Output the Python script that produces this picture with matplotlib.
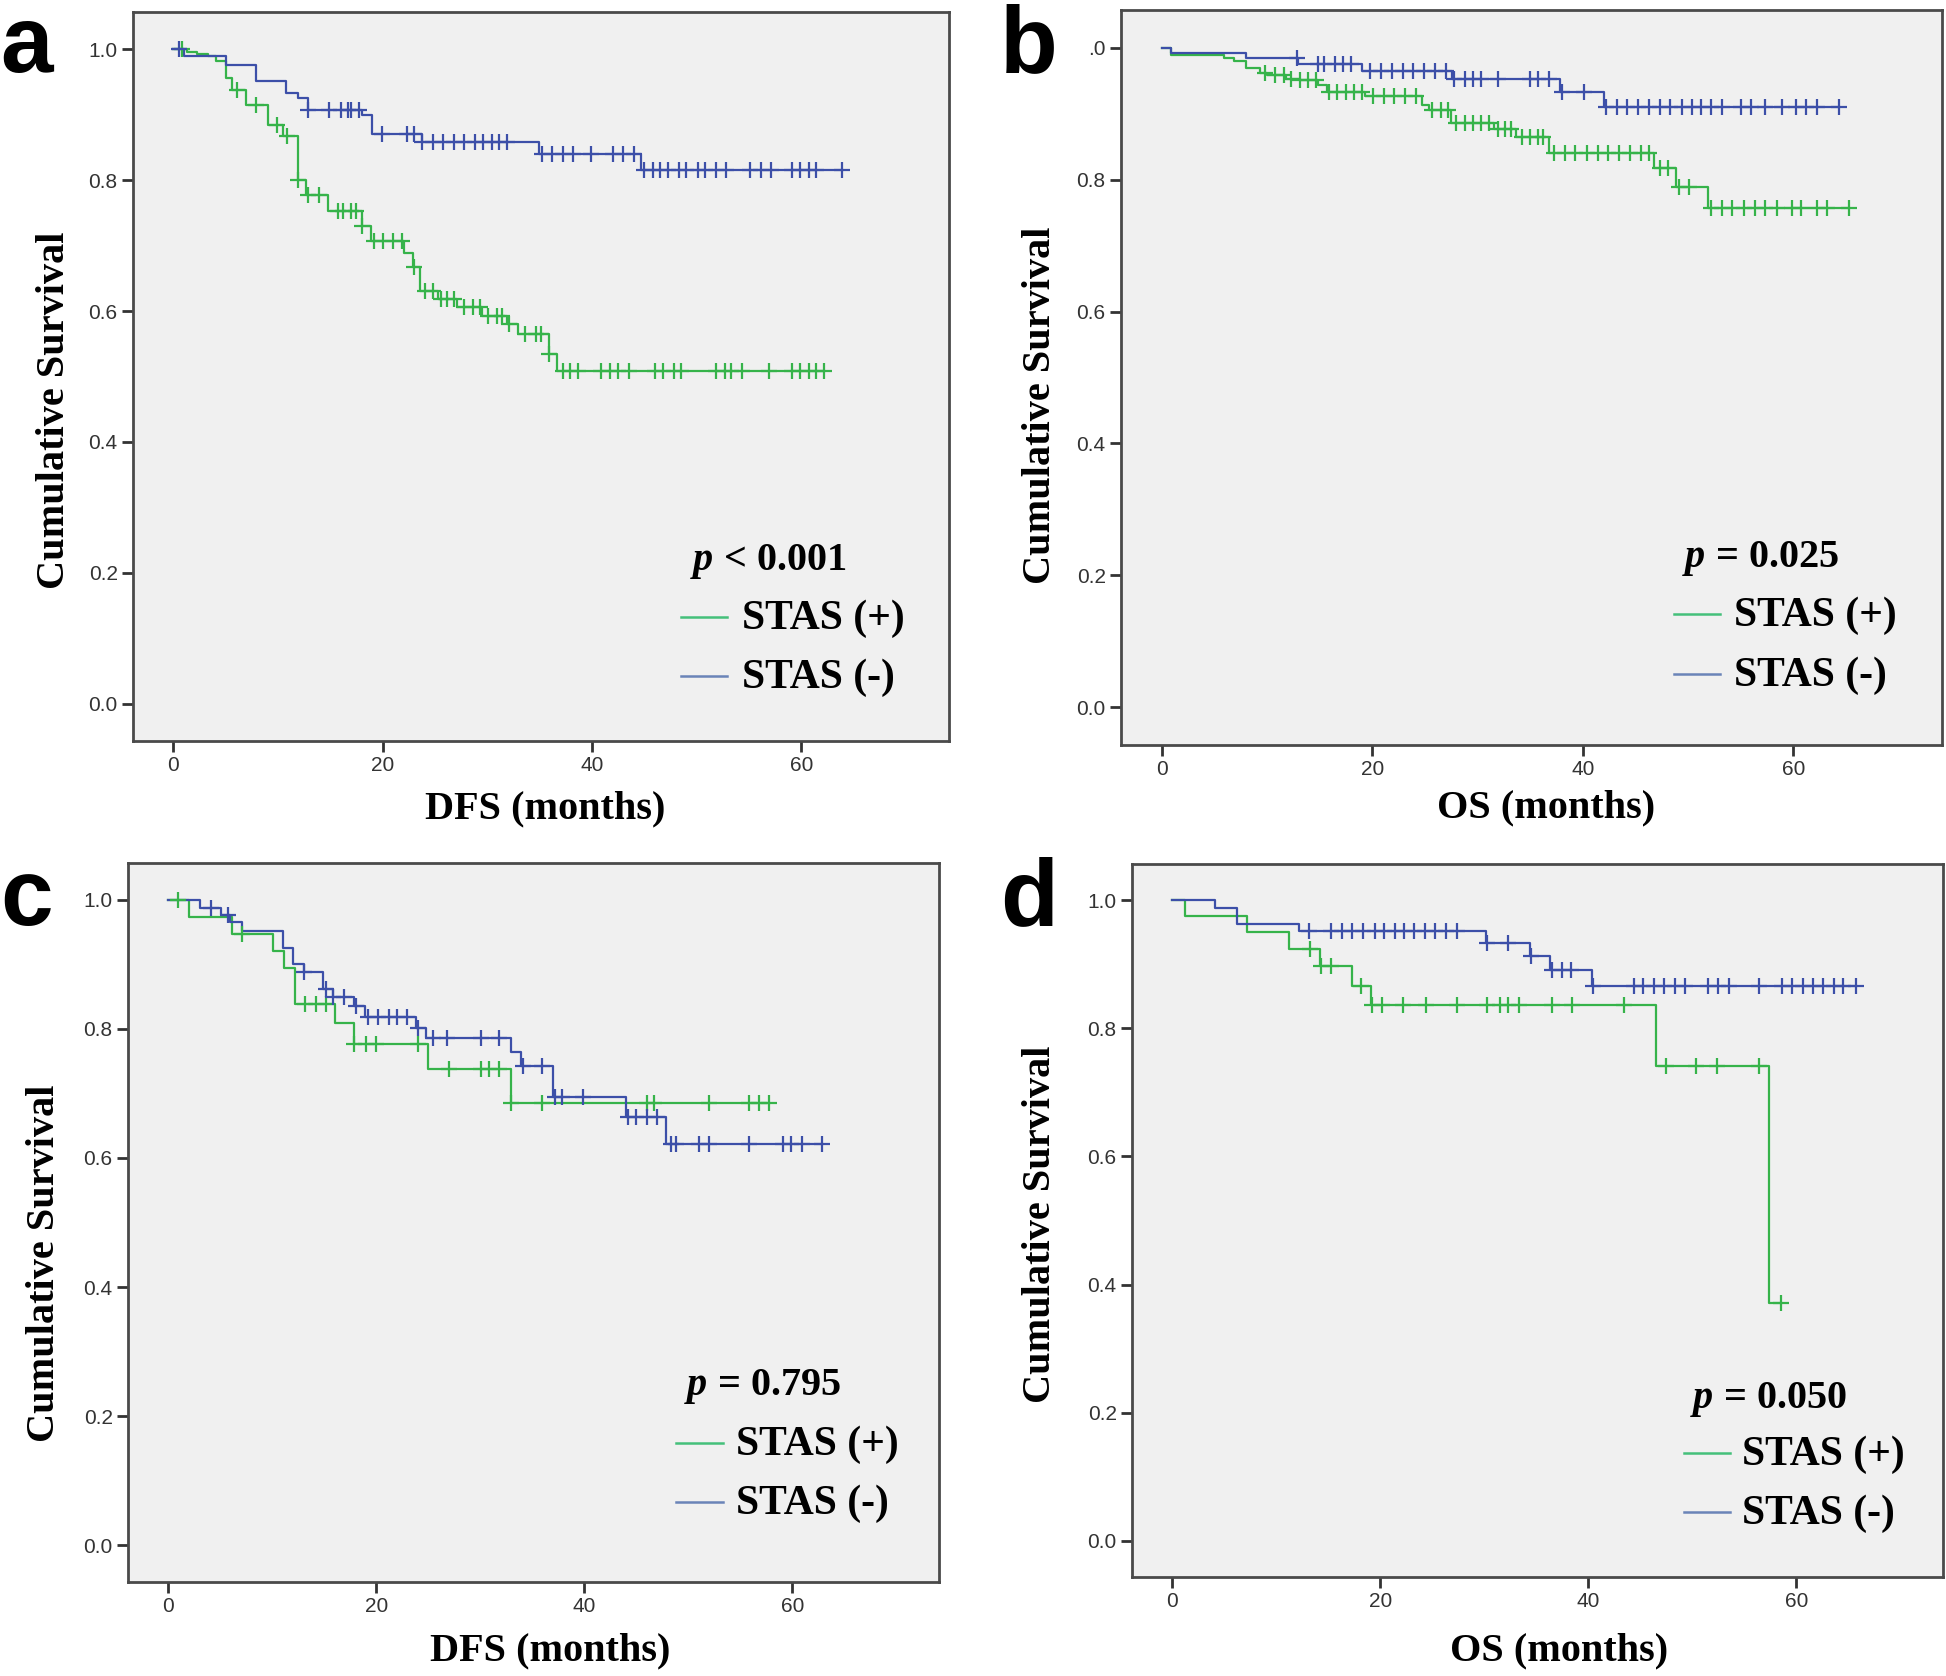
import numpy as np
import matplotlib
matplotlib.use("Agg")
import matplotlib.pyplot as plt
from matplotlib.lines import Line2D

plt.rcParams["mathtext.fontset"] = "custom"
plt.rcParams["mathtext.it"] = "Liberation Serif:italic:bold"
plt.rcParams["mathtext.rm"] = "Liberation Serif:bold"

W, H = 1946, 1676
GREEN = "#36b34a"
BLUE = "#3c4fa8"
LEG_GREEN = "#44c07a"
LEG_BLUE = "#6a84b8"

# ---- data: step times (months), survival after each step, censor times ----
# panel a: DFS
a_pos_t = [0, 1.3, 2.3, 3.3, 4.1, 5.0, 5.6, 6.9, 9.0, 10.5, 11.9, 12.7, 14.8, 18.0, 18.9,
           22.0, 22.9, 23.6, 25.3, 27.1, 29.5, 31.9, 32.9, 35.9, 36.7]
a_pos_s = [1.0, 0.996, 0.993, 0.99, 0.982, 0.956, 0.938, 0.915, 0.885, 0.868, 0.80, 0.778,
           0.753, 0.73, 0.707, 0.689, 0.667, 0.631, 0.618, 0.606, 0.593, 0.58, 0.565, 0.535, 0.509]
a_pos_c = [0.8, 6.1, 7.9, 9.9, 10.9, 11.9, 12.9, 13.9, 15.7, 16.2, 17.0, 17.5, 18.0, 19.2, 20.0,
           21.0, 21.8, 23.0, 24.0, 24.8, 25.6, 26.1, 26.8, 27.8, 28.6, 29.3, 30.1, 30.9, 31.4,
           32.1, 33.6, 34.6, 35.1, 35.9, 37.2, 37.9, 38.7, 40.9, 41.7, 42.5, 43.5, 46.0, 46.8,
           47.8, 48.5, 51.8, 52.7, 53.3, 54.3, 56.9, 59.1, 59.9, 60.7, 61.4, 62.2]
a_neg_t = [0, 1.0, 5.0, 7.9, 10.8, 11.9, 12.9, 18.0, 19.0, 23.8, 34.9, 44.7]
a_neg_s = [1.0, 0.99, 0.976, 0.951, 0.933, 0.925, 0.908, 0.90, 0.870, 0.859, 0.840, 0.815]
a_neg_c = [0.5, 12.9, 14.9, 16.0, 16.7, 17.0, 17.7, 19.9, 22.3, 23.0, 23.8, 24.8, 25.8, 26.8,
           27.8, 28.8, 29.6, 30.4, 31.1, 31.9, 35.2, 36.2, 37.2, 38.2, 39.9, 42.0, 43.0, 44.0,
           45.0, 45.8, 46.5, 47.3, 48.3, 49.0, 50.1, 50.8, 51.8, 52.8, 55.1, 56.1, 57.1, 59.1,
           59.9, 60.7, 61.4, 63.9]

# panel b: OS
b_pos_t = [0, 0.9, 5.9, 6.9, 8.0, 9.3, 10.0, 11.8, 13.1, 14.9, 15.7, 19.3, 24.7, 25.4, 27.5,
           31.6, 33.7, 36.8, 46.8, 48.8, 51.9]
b_pos_s = [1.0, 0.989, 0.984, 0.979, 0.969, 0.961, 0.958, 0.953, 0.951, 0.943, 0.933, 0.926,
           0.913, 0.905, 0.885, 0.877, 0.865, 0.84, 0.817, 0.789, 0.757]
b_pos_c = [9.8, 10.8, 11.6, 12.3, 13.1, 13.9, 14.7, 15.9, 16.7, 17.5, 18.3, 19.0, 20.1, 21.1,
           22.1, 23.1, 24.2, 25.7, 26.5, 27.2, 28.0, 28.8, 29.6, 30.3, 31.1, 31.9, 32.6, 33.2,
           34.2, 35.0, 35.7, 36.2, 37.3, 38.3, 39.3, 40.4, 41.4, 42.4, 43.4, 44.5, 45.5, 46.3,
           47.3, 48.1, 49.1, 50.1, 52.2, 53.2, 54.2, 55.3, 56.3, 57.3, 58.4, 59.9, 60.7, 62.2,
           63.2, 65.3]
b_neg_t = [0, 0.9, 8.0, 13.0, 19.0, 27.6, 37.8, 42.0]
b_neg_s = [1.0, 0.992, 0.984, 0.975, 0.965, 0.952, 0.932, 0.91]
b_neg_c = [12.9, 14.9, 15.4, 16.5, 17.2, 18.0, 19.8, 20.8, 21.9, 22.9, 23.9, 24.9, 26.0, 27.0,
           27.8, 28.8, 29.6, 30.3, 31.9, 35.0, 35.7, 36.8, 38.0, 40.1, 42.2, 43.2, 44.2, 45.2,
           46.3, 47.3, 48.3, 49.4, 50.4, 51.2, 52.2, 53.2, 55.0, 56.0, 57.3, 58.9, 60.2, 61.2,
           62.2, 64.3]

# panel c: DFS
c_pos_t = [0, 2.0, 6.1, 10.1, 11.1, 12.2, 16.0, 17.9, 25.0, 33.0]
c_pos_s = [1.0, 0.974, 0.947, 0.921, 0.894, 0.839, 0.809, 0.777, 0.738, 0.685]
c_pos_c = [1.0, 7.1, 13.2, 14.2, 15.2, 17.9, 19.0, 20.0, 24.0, 27.0, 30.1, 30.8, 31.8, 33.0,
           35.9, 46.0, 46.7, 52.0, 55.8, 56.8, 57.8]
c_neg_t = [0, 3.1, 5.1, 6.0, 7.1, 11.0, 12.0, 13.1, 14.9, 15.9, 17.9, 18.9, 23.8, 24.8, 33.0,
           33.9, 37.0, 44.0, 47.9]
c_neg_s = [1.0, 0.988, 0.977, 0.965, 0.952, 0.925, 0.90, 0.888, 0.862, 0.849, 0.836, 0.819,
           0.802, 0.786, 0.764, 0.742, 0.694, 0.663, 0.622]
c_neg_c = [4.1, 5.8, 13.1, 15.2, 15.9, 16.9, 18.1, 19.2, 20.2, 21.2, 22.0, 23.0, 24.0, 25.5,
           26.8, 30.1, 31.8, 34.1, 35.9, 37.2, 37.9, 39.9, 44.2, 45.0, 46.0, 47.0, 48.3, 48.8,
           51.0, 52.0, 55.8, 59.1, 59.9, 60.9, 62.9]

# panel d: OS
d_pos_t = [0, 1.2, 7.2, 11.2, 14.2, 17.3, 19.1, 46.5, 57.4]
d_pos_s = [1.0, 0.975, 0.95, 0.924, 0.897, 0.867, 0.836, 0.742, 0.371]
d_pos_c = [13.3, 14.3, 15.3, 18.2, 19.2, 20.2, 22.2, 24.4, 27.4, 30.3, 31.5, 32.3, 33.3, 36.5,
           38.4, 43.4, 47.5, 50.4, 52.4, 56.4, 58.5]
d_neg_t = [0, 4.1, 6.2, 12.2, 30.2, 34.4, 36.3, 40.4]
d_neg_s = [1.0, 0.988, 0.964, 0.952, 0.933, 0.913, 0.892, 0.867]
d_neg_c = [13.2, 15.3, 16.3, 17.3, 18.4, 19.5, 20.4, 21.4, 22.3, 23.3, 24.3, 25.3, 26.3, 27.4,
           30.3, 32.3, 34.5, 36.5, 37.5, 38.3, 40.5, 44.4, 45.3, 46.3, 47.3, 48.3, 49.3, 51.5,
           52.5, 53.5, 56.4, 58.6, 59.6, 60.6, 61.6, 62.6, 63.6, 64.5, 65.7]

panel_letters = ["a", "b", "c", "d"]
x_labels = ["DFS (months)", "OS (months)", "DFS (months)", "OS (months)"]
p_texts = [r"$p$ < 0.001", r"$p$ = 0.025", r"$p$ = 0.795", r"$p$ = 0.050"]
legend_labels = ["STAS (+)", "STAS (-)"]
y_ticks = [0.0, 0.2, 0.4, 0.6, 0.8, 1.0]
y_ticklabels = ["0.0", "0.2", "0.4", "0.6", "0.8", "1.0"]
y_ticklabels_b = ["0.0", "0.2", "0.4", "0.6", "0.8", ".0"]
x_ticks = [0, 20, 40, 60]

curves = [
    (a_pos_t, a_pos_s, a_pos_c, a_neg_t, a_neg_s, a_neg_c),
    (b_pos_t, b_pos_s, b_pos_c, b_neg_t, b_neg_s, b_neg_c),
    (c_pos_t, c_pos_s, c_pos_c, c_neg_t, c_neg_s, c_neg_c),
    (d_pos_t, d_pos_s, d_pos_c, d_neg_t, d_neg_s, d_neg_c),
]

# layout in pixels (left, top, right, bottom) of each plot box
boxes = [(133, 12, 949, 741), (1121, 10, 1942, 745), (128, 863, 939, 1582), (1132, 864, 1943, 1577)]
letter_pos = [(0, 72), (1000, 72), (0, 925), (1000, 925)]
ylabel_pos = [(55, 410), (1040, 405), (45, 1263), (1040, 1224)]
xlabel_pos = [(545, 809), (1546, 808), (550, 1651), (1559, 1651)]
# legend: p-text left x, p center y, line x0, x1, text x, row y's
legend_pos = [
    (690, 561, 681, 727, 742, 619, 678),
    (1682, 558, 1674, 1720, 1734, 616, 676),
    (684, 1386, 676, 723, 736, 1445, 1504),
    (1690, 1399, 1684, 1730, 1742, 1455, 1514),
]

fx = lambda px: px / W
fy = lambda py: 1 - py / H

SERIF = "Liberation Serif"
SANS = "Liberation Sans"


def km(ax, t, s, c, color):
    t = np.asarray(t, float); s = np.asarray(s, float); c = np.asarray(c, float)
    end = max(t[-1], c.max())
    ax.step(np.append(t, end), np.append(s, s[-1]), where="post", color=color, lw=1.6, zorder=3)
    cy = s[np.searchsorted(t, c, side="right") - 1]
    ax.plot(c, cy, ls="none", marker="+", ms=11, mew=1.6, color=color, zorder=4)


fig = plt.figure(figsize=(W / 100, H / 100), dpi=100)
for i, (box, cur) in enumerate(zip(boxes, curves)):
    l, t, r, b = box
    ax = fig.add_axes([fx(l), fy(b), (r - l) / W, (b - t) / H])
    ax.set_facecolor("#f0f0f0")
    km(ax, cur[0], cur[1], cur[2], GREEN)
    km(ax, cur[3], cur[4], cur[5], BLUE)
    ax.set_xlim(-3.85, 74.1)
    ax.set_ylim(-0.057, 1.057)
    ax.set_xticks(x_ticks)
    ax.set_yticks(y_ticks)
    ax.set_yticklabels(y_ticklabels_b if i == 1 else y_ticklabels)
    for sp in ax.spines.values():
        sp.set_color("#4a4a4a"); sp.set_linewidth(2.0)
    ax.tick_params(direction="out", length=8, width=2, color="#333333",
                   labelcolor="#333333", labelsize=15, pad=3)
    for lab in ax.get_xticklabels() + ax.get_yticklabels():
        lab.set_family(SANS)

    lx, ly = letter_pos[i]
    fig.text(fx(lx), fy(ly), panel_letters[i], family=SANS, weight="bold",
             fontsize=68, ha="left", va="baseline")
    yx, yy = ylabel_pos[i]
    fig.text(fx(yx), fy(yy), "Cumulative Survival", family=SERIF, weight="bold",
             fontsize=29, rotation=90, ha="center", va="center")
    xx, xy = xlabel_pos[i]
    fig.text(fx(xx), fy(xy), x_labels[i], family=SERIF, weight="bold",
             fontsize=29, ha="center", va="center")

    px, py, x0, x1, tx, y1, y2 = legend_pos[i]
    fig.text(fx(px), fy(py), p_texts[i], family=SERIF, weight="bold",
             fontsize=29, ha="left", va="center")
    for yrow, col, lab in [(y1, LEG_GREEN, legend_labels[0]), (y2, LEG_BLUE, legend_labels[1])]:
        fig.add_artist(Line2D([fx(x0), fx(x1)], [fy(yrow - 2), fy(yrow - 2)], color=col, lw=1.8))
        fig.text(fx(tx), fy(yrow), lab, family=SERIF, weight="bold",
                 fontsize=30, ha="left", va="center")

fig.savefig("out.png", dpi=100, facecolor="white")
